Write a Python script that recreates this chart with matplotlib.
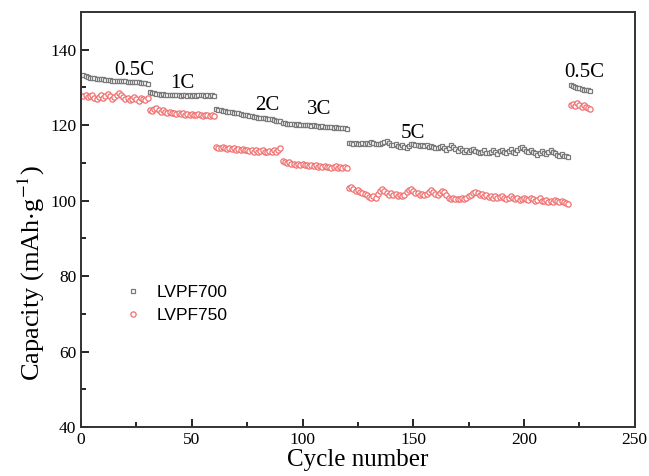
import numpy as np
import matplotlib.pyplot as plt

# discharge capacity per cycle, split by C-rate step
cap700_05c = [133.2, 133.0, 132.8, 132.6, 132.5, 132.4, 132.3, 132.2, 132.2, 132.1,
              132.0, 131.9, 131.9, 131.8, 131.8, 131.7, 131.7, 131.6, 131.6, 131.6,
              131.5, 131.5, 131.4, 131.4, 131.3, 131.3, 131.2, 131.2, 131.1, 131.0]
cap700_1c = [128.9, 128.6, 128.4, 128.3, 128.2, 128.1, 128.2, 128.0, 128.1, 128.0,
             127.9, 128.0, 127.9, 128.1, 127.8, 127.9, 128.0, 127.8, 127.9, 127.8,
             128.0, 127.8, 127.9, 128.1, 127.9, 127.8, 128.0, 127.7, 127.9, 127.8]
cap700_2c = [124.2, 124.0, 123.9, 123.8, 123.8, 123.6, 123.5, 123.5, 123.3, 123.2,
             123.1, 123.0, 122.8, 122.7, 122.6, 122.5, 122.3, 122.2, 122.1, 122.0,
             121.9, 121.8, 121.8, 121.6, 121.5, 121.5, 121.3, 121.2, 121.2, 121.0]
cap700_3c = [120.6, 120.5, 120.4, 120.4, 120.2, 120.3, 120.1, 120.2, 120.0, 120.1,
             119.9, 120.0, 119.9, 119.8, 119.9, 119.7, 119.8, 119.6, 119.7, 119.5,
             119.6, 119.4, 119.5, 119.3, 119.4, 119.2, 119.3, 119.1, 119.2, 119.0]
cap700_5c = [115.3, 115.2, 115.1, 115.2, 115.0, 115.1, 115.2, 115.0, 115.3, 115.1,
             115.4, 115.2, 114.9, 115.1, 115.0, 115.3, 115.6, 115.8, 115.2, 114.8,
             114.6, 114.9, 114.5, 114.3, 114.8, 114.2, 114.0, 114.5, 114.9, 115.1,
             114.6, 114.8, 114.5, 114.7, 114.4, 114.6, 114.3, 114.5, 114.2, 114.0,
             113.8, 114.1, 114.4, 113.9, 113.5, 114.0, 114.6, 114.1, 113.6, 113.2,
             113.8, 113.4, 113.0, 113.5, 112.9, 113.3, 113.7, 113.1, 112.8, 112.6,
             112.9, 113.3, 112.7, 112.5, 113.0, 113.4, 112.8, 112.4, 113.1, 113.5,
             112.9, 112.6, 113.2, 113.6, 113.0, 112.7, 113.3, 113.8, 114.2, 113.7,
             113.2, 112.8, 113.4, 112.9, 112.5, 112.2, 112.7, 113.1, 112.6, 112.3,
             112.8, 113.3, 113.0, 112.5, 112.1, 111.9, 112.3, 111.7, 111.9, 111.6]
cap700_05c_b = [130.6, 130.3, 130.0, 129.8, 129.7, 129.5, 129.4, 129.3, 129.2, 129.1]

cap750_05c = [127.6, 127.9, 127.4, 127.8, 128.1, 127.3, 126.8, 127.5, 127.9, 127.2,
              127.6, 128.2, 127.7, 127.0, 127.5, 128.0, 128.6, 128.0, 127.4, 126.9,
              127.3, 126.6, 127.0, 127.4, 126.8, 126.5, 127.1, 126.9, 126.6, 127.2]
cap750_1c = [124.1, 123.8, 124.2, 124.5, 123.9, 123.6, 124.0, 123.4, 123.2, 123.5,
             123.1, 123.3, 123.0, 123.2, 122.9, 123.1, 122.8, 123.0, 122.7, 122.9,
             122.6, 122.8, 123.0, 122.7, 122.5, 122.8, 122.6, 122.4, 122.7, 122.5]
cap750_2c = [114.2, 114.0, 113.8, 114.1, 113.9, 113.7, 113.9, 113.6, 113.8, 113.5,
             113.7, 113.4, 113.6, 113.3, 113.5, 113.2, 113.4, 113.0, 113.3, 112.9,
             113.2, 113.5, 113.0, 112.8, 113.2, 112.9, 113.3, 113.0, 113.4, 113.9]
cap750_3c = [110.6, 110.2, 109.9, 110.1, 109.7, 109.8, 109.5, 109.7, 109.4, 109.6,
             109.3, 109.5, 109.2, 109.4, 109.1, 109.3, 109.0, 109.2, 108.9, 109.1,
             108.8, 109.0, 108.7, 108.9, 109.2, 108.7, 108.9, 108.5, 108.8, 108.6]
cap750_5c = [103.2, 103.5, 103.0, 102.6, 102.9, 102.4, 102.1, 101.7, 101.4, 101.0,
             100.7, 101.2, 100.6, 101.8, 102.5, 103.0, 102.6, 102.1, 101.6, 101.9,
             101.5, 101.8, 101.3, 101.6, 101.2, 101.5, 102.2, 102.8, 103.0, 102.5,
             101.9, 102.1, 101.6, 101.8, 101.4, 101.7, 102.3, 102.9, 102.4, 101.8,
             101.5, 101.9, 102.6, 102.2, 101.4, 100.8, 100.4, 100.6, 100.3, 100.5,
             100.4, 100.6, 100.5, 100.8, 101.2, 101.6, 102.0, 102.3, 101.9, 101.6,
             101.8, 101.3, 101.6, 101.0, 101.3, 100.8, 101.1, 100.6, 100.9, 101.2,
             100.7, 100.5, 100.8, 101.3, 100.6, 100.4, 100.7, 100.2, 100.5, 100.8,
             100.4, 100.1, 100.6, 100.3, 99.9, 100.2, 100.6, 100.0, 99.8, 100.1,
             99.7, 100.0, 99.6, 100.2, 99.8, 99.5, 99.9, 99.6, 99.3, 99.1]
cap750_05c_b = [125.3, 125.5, 125.0, 125.8, 125.2, 124.7, 125.4, 124.9, 124.6, 124.3]

rate_labels = ["0.5C", "1C", "2C", "3C", "5C", "0.5C"]
rate_label_x = [24, 45.5, 84, 107.5, 150, 227.4]
rate_label_y = [134.6, 131.0, 125.3, 124.2, 117.9, 134.0]

lvpf700 = np.concatenate([cap700_05c, cap700_1c, cap700_2c, cap700_3c, cap700_5c, cap700_05c_b])
lvpf750 = np.concatenate([cap750_05c, cap750_1c, cap750_2c, cap750_3c, cap750_5c, cap750_05c_b])
cycles = np.arange(1, len(lvpf700) + 1)

plt.rcParams['font.family'] = ['Liberation Serif', 'DejaVu Serif']
plt.rcParams['mathtext.fontset'] = 'stix'

fig = plt.figure(figsize=(6.49, 4.76), dpi=100)
ax = fig.add_axes([0.125, 0.103, 0.853, 0.872])

ax.plot(cycles, lvpf700, ls='none', marker='s', ms=3.4, mfc='white', mec='#7a7a7a', mew=0.9, label='LVPF700')
ax.plot(cycles, lvpf750, ls='none', marker='o', ms=3.8, mfc='white', mec='#f07070', mew=0.9, label='LVPF750')

for lab, x, y in zip(rate_labels, rate_label_x, rate_label_y):
    ax.text(x, y, lab, fontsize=15, ha='center', va='center')

ax.set_xlim(0, 250)
ax.set_ylim(40, 150)
ax.set_xticks([0, 50, 100, 150, 200, 250])
ax.set_xticks([25, 75, 125, 175, 225], minor=True)
ax.set_yticks([40, 60, 80, 100, 120, 140])
ax.set_yticks([50, 70, 90, 110, 130], minor=True)
ax.tick_params(which='both', direction='in', top=False, right=False, labelsize=12.5, width=1.2)
ax.tick_params(which='major', length=6)
ax.tick_params(which='minor', length=3.5)
for s in ax.spines.values():
    s.set_linewidth(1.4)
    s.set_color('#333333')

ax.set_xlabel('Cycle number', fontsize=18, labelpad=1)
ax.set_ylabel(r'Capacity (mAh$\cdot$g$^{-1}$)', fontsize=19)
ax.yaxis.set_label_coords(-0.062, 0.37)

leg = ax.legend(loc='upper left', bbox_to_anchor=(0.046, 0.38), frameon=False,
                prop={'family': 'Liberation Sans', 'size': 12.5}, handlelength=1.2,
                handletextpad=0.8, labelspacing=0.45, markerscale=1.0)

fig.savefig('out.png', dpi=100)
